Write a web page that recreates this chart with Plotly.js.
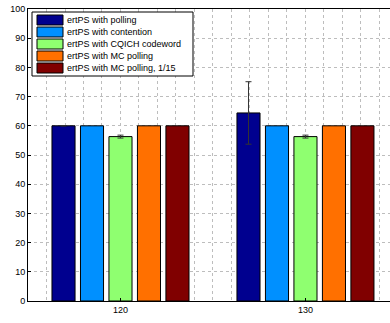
<!DOCTYPE html>
<html>
<head>
<meta charset="utf-8">
<script src="https://cdn.plot.ly/plotly-3.0.1.min.js"></script>
<style>html,body{margin:0;padding:0;background:#fff;}#chart{width:390px;height:323px;}</style>
</head>
<body>
<div id="chart"></div>
<script>
// ---- data ----
const categories = [120, 130];
const seriesNames = [
  "ertPS with polling",
  "ertPS with contention",
  "ertPS with CQICH codeword",
  "ertPS with MC polling",
  "ertPS with MC polling, 1/15"
];
const polling = [60, 64.4];
const contention = [60, 60];
const cqich = [56.3, 56.3];
const mcPolling = [60, 60];
const mcPolling115 = [60, 60];
const pollingErr = [0, 10.7];
const cqichErr = [0.5, 0.5];
const yTicks = [0, 10, 20, 30, 40, 50, 60, 70, 80, 90, 100];

const colors = ["#00008F", "#0090FF", "#8FFF70", "#FF7000", "#800000"];
const seriesValues = [polling, contention, cqich, mcPolling, mcPolling115];
const seriesErr = [pollingErr, null, cqichErr, null, null];

const traces = seriesValues.map((vals, i) => {
  const t = {
    type: "bar",
    x: categories,
    y: vals,
    name: seriesNames[i],
    marker: {color: colors[i], line: {color: "#000", width: 1}},
    showlegend: false,
    hoverinfo: "skip"
  };
  if (seriesErr[i]) {
    t.error_y = {type: "data", array: seriesErr[i], visible: true, color: "#333", thickness: 1, width: 3};
  }
  return t;
});

// manual legend (MATLAB style) in pixel coords -> paper
const L = 28, R = 390, T = 9, B = 301;
const px = v => (v - L) / (R - L);
const py = v => (B - v) / (B - T);
const shapes = [{
  type: "rect", xref: "paper", yref: "paper",
  x0: px(32), x1: px(193), y0: py(76), y1: py(12),
  line: {color: "#000", width: 1}, fillcolor: "#fff", layer: "above"
}];
const annotations = [];
seriesNames.forEach((n, i) => {
  const cy = 20 + i * 12;
  shapes.push({
    type: "rect", xref: "paper", yref: "paper",
    x0: px(37), x1: px(63), y0: py(cy + 5), y1: py(cy - 5),
    line: {color: "#000", width: 1}, fillcolor: colors[i], layer: "above"
  });
  annotations.push({
    xref: "paper", yref: "paper", x: px(64.5), y: py(cy),
    xanchor: "left", yanchor: "middle", showarrow: false,
    text: n, font: {family: "Liberation Sans, Arial, sans-serif", size: 9, color: "#000"}
  });
});

const layout = {
  width: 390, height: 323,
  margin: {l: 28, r: 0, t: 9, b: 22, pad: 0},
  paper_bgcolor: "#fff", plot_bgcolor: "#fff",
  barmode: "group", bargap: 0.23, bargroupgap: 0.19,
  font: {family: "Liberation Sans, Arial, sans-serif", size: 9, color: "#000"},
  xaxis: {
    range: [115, 134.57], tickmode: "array", tickvals: categories, ticktext: categories.map(String),
    ticks: "inside", ticklen: 3, tickcolor: "#000",
    showline: true, linecolor: "#000", linewidth: 1, mirror: true,
    showgrid: true, gridcolor: "#bdbdbd", griddash: "dot", gridwidth: 1,
    minor: {dtick: 1, tick0: 0, showgrid: true, gridcolor: "#bdbdbd", griddash: "dot", gridwidth: 1},
    zeroline: false, fixedrange: true
  },
  yaxis: {
    range: [0, 100], tickmode: "array", tickvals: yTicks,
    ticks: "inside", ticklen: 3, tickcolor: "#000",
    showline: true, linecolor: "#000", linewidth: 1,
    showgrid: true, gridcolor: "#bdbdbd", griddash: "dot", gridwidth: 1,
    zeroline: false, fixedrange: true
  },
  shapes: shapes,
  annotations: annotations,
  showlegend: false
};

Plotly.newPlot("chart", traces, layout, {displayModeBar: false, staticPlot: true});
</script>
</body>
</html>
